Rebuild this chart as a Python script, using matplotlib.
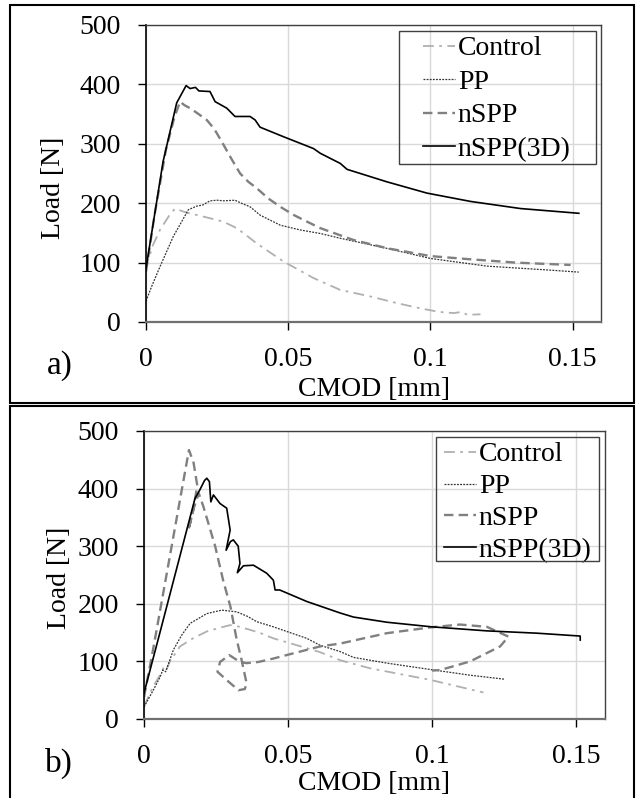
import matplotlib
matplotlib.use("Agg")
import matplotlib.pyplot as plt
from matplotlib.patches import Rectangle

plt.rcParams['font.family'] = ['Liberation Serif', 'DejaVu Serif']

# ---- panel a) data ----
ctrl_a_x = [0, 0.0005, 0.0025, 0.0049, 0.0080, 0.0102, 0.0143, 0.0180, 0.0214, 0.0272, 0.0319, 0.0350,
            0.0390, 0.0483, 0.0589, 0.0683, 0.0789, 0.0880, 0.0965, 0.1030, 0.1082, 0.1110, 0.1130, 0.1176]
ctrl_a_y = [88, 100, 130, 155, 178, 191, 184, 180, 176, 169, 158, 147,
            132, 102, 74, 54, 43, 32, 23, 17, 15, 17, 12, 13]

pp_a_x = [0, 0.0020, 0.0049, 0.0096, 0.0149, 0.0178, 0.0200, 0.0225, 0.0250, 0.0272, 0.0313, 0.0340,
          0.0366, 0.0401, 0.0472, 0.0542, 0.0613, 0.0683, 0.0847, 0.1000, 0.1200, 0.1400, 0.1522]
pp_a_y = [35, 60, 93, 144, 189, 195, 197, 204, 205, 204, 205, 199,
          194, 180, 163, 155, 149, 141, 124, 107, 94, 88, 84]

nspp_a_x = [0, 0.0030, 0.0070, 0.0100, 0.0120, 0.0135, 0.0155, 0.0185, 0.0214, 0.0240, 0.0266, 0.0300,
            0.0331, 0.0360, 0.0390, 0.0430, 0.0472, 0.0520, 0.0566, 0.0613, 0.0683, 0.0730, 0.0850,
            0.1000, 0.1129, 0.1300, 0.1493]
nspp_a_y = [85, 180, 290, 345, 371, 365, 360, 350, 340, 325, 304, 275,
            250, 236, 225, 208, 194, 180, 169, 158, 146, 138, 124,
            111, 106, 100, 96]

n3d_a_x = [0, 0.0030, 0.0060, 0.0108, 0.0141, 0.0155, 0.0174, 0.0186, 0.0225, 0.0243, 0.0284, 0.0313,
           0.0340, 0.0366, 0.0384, 0.0401, 0.0483, 0.0589, 0.0613, 0.0683, 0.0707, 0.0847, 0.0988,
           0.1141, 0.1317, 0.1522]
n3d_a_y = [90, 180, 270, 369, 398, 393, 395, 389, 388, 371, 360, 346,
           346, 346, 340, 328, 312, 292, 284, 267, 257, 236, 217,
           203, 191, 183]

# ---- panel b) data ----
ctrl_b_x = [0, 0.0030, 0.0060, 0.0067, 0.0075, 0.0090, 0.0125, 0.0170, 0.0218, 0.0260, 0.0299, 0.0333,
            0.0400, 0.0449, 0.0565, 0.0611, 0.0681, 0.0785, 0.0993, 0.1178]
ctrl_b_y = [22, 55, 80, 88, 82, 100, 126, 140, 152, 158, 163, 160,
            150, 140, 123, 116, 102, 88, 68, 46]

pp_b_x = [0, 0.0030, 0.0056, 0.0065, 0.0075, 0.0102, 0.0130, 0.0160, 0.0218, 0.0270, 0.0322, 0.0360,
          0.0391, 0.0449, 0.0565, 0.0611, 0.0681, 0.0727, 0.0843, 0.0993, 0.1132, 0.1253]
pp_b_y = [21, 48, 73, 85, 82, 120, 145, 166, 183, 189, 186, 178,
          169, 160, 140, 128, 117, 107, 97, 86, 76, 69]

nspp_b_x = [0, 0.0032, 0.0156, 0.0172, 0.0185, 0.0168, 0.0154, 0.0172, 0.0190, 0.0206, 0.0247, 0.0275,
            0.0300, 0.0322, 0.0339, 0.0356, 0.0350, 0.0328, 0.0293, 0.0255, 0.0264, 0.0296, 0.0333,
            0.0356, 0.0397, 0.0449, 0.0611, 0.0681, 0.0843, 0.0993, 0.1097, 0.1190, 0.1265, 0.1236,
            0.1132, 0.1028, 0.1000]
nspp_b_y = [38, 122, 467, 445, 405, 355, 328, 365, 392, 369, 300, 240,
            195, 137, 102, 62, 52, 50, 65, 82, 99, 111, 99,
            97, 99, 105, 126, 131, 149, 159, 164, 160, 143, 126,
            100, 85, 84]

n3d_b_x = [0, 0.0049, 0.0177, 0.0194, 0.0210, 0.0218, 0.0227, 0.0232, 0.0241, 0.0264, 0.0287, 0.0299,
           0.0285, 0.0300, 0.0310, 0.0327, 0.0333, 0.0324, 0.0345, 0.0380, 0.0426, 0.0449, 0.0455,
           0.0471, 0.0565, 0.0681, 0.0727, 0.0843, 0.0999, 0.1190, 0.1363, 0.1514, 0.1514]
n3d_b_y = [45, 138, 383, 398, 414, 418, 412, 377, 389, 374, 366, 328,
           293, 308, 311, 300, 270, 254, 266, 267, 253, 241, 224,
           224, 204, 184, 177, 168, 160, 153, 149, 144, 137]

labels = ['Control', 'PP', 'nSPP', 'nSPP(3D)']
x_ticks = [0, 0.05, 0.1, 0.15]
x_tick_labels = ['0', '0.05', '0.1', '0.15']
y_ticks = [0, 100, 200, 300, 400, 500]

W, H = 638, 798


def fx(px):
    return px / W


def fy(py):
    return 1 - py / H


styles = [
    dict(color='#b0b0b0', lw=1.3, ls=(0, (6, 3, 1.5, 3))),
    dict(color='#333333', lw=0.9, ls=(0, (1.5, 1))),
    dict(color='#808080', lw=1.7, ls=(0, (4, 2.2))),
    dict(color='#000000', lw=1.2, ls='-'),
]

fig = plt.figure(figsize=(W / 100, H / 100), dpi=100)

panels = [
    dict(rect=(146, 25, 601, 322), data=[(ctrl_a_x, ctrl_a_y), (pp_a_x, pp_a_y), (nspp_a_x, nspp_a_y), (n3d_a_x, n3d_a_y)],
         leg_anchor=(423, 36), leg_space=0.29, leg_box=(399, 31, 596, 164),
         ylab=(53, 188), xlab_base=396, tag='a)', tag_pos=(47, 374), border=(10, 5, 634, 403)),
    dict(rect=(144, 431, 605, 719), data=[(ctrl_b_x, ctrl_b_y), (pp_b_x, pp_b_y), (nspp_b_x, nspp_b_y), (n3d_b_x, n3d_b_y)],
         leg_anchor=(444, 442), leg_space=0.23, leg_box=(436, 437, 599, 561),
         ylab=(59, 578), xlab_base=790, tag='b)', tag_pos=(45, 772), border=(10, 406, 634, 812)),
]

for p in panels:
    l, t, r, b = p['rect']
    ax = fig.add_axes([fx(l), fy(b), (r - l) / W, (b - t) / H])
    lines = []
    for (xs, ys), st in zip(p['data'], styles):
        ln, = ax.plot(xs, ys, color=st['color'], lw=st['lw'], linestyle=st['ls'])
        lines.append(ln)
    ax.set_xlim(0, 0.16)
    ax.set_ylim(0, 500)
    ax.set_xticks(x_ticks)
    ax.set_xticklabels(x_tick_labels)
    ax.set_yticks(y_ticks)
    ax.grid(True, color='#d9d9d9', lw=1)
    ax.set_axisbelow(True)
    ax.tick_params(direction='out', length=6, width=1, pad=12, labelsize=20, colors='black')
    ax.spines['left'].set_color('black')
    ax.spines['left'].set_linewidth(1.2)
    ax.spines['bottom'].set_color('#707070')
    ax.spines['bottom'].set_linewidth(1.6)
    for s in ['top', 'right']:
        ax.spines[s].set_color('#404040')
        ax.spines[s].set_linewidth(1.0)

    leg = ax.legend(lines, labels, loc='upper left', frameon=False,
                    bbox_to_anchor=(fx(p['leg_anchor'][0]), fy(p['leg_anchor'][1])),
                    bbox_transform=fig.transFigure, borderpad=0, borderaxespad=0,
                    handlelength=1.15, handletextpad=0.1, labelspacing=p['leg_space'],
                    fontsize=20)
    bl, bt, br, bb = p['leg_box']
    fig.add_artist(Rectangle((fx(bl), fy(bb)), (br - bl) / W, (bb - bt) / H,
                             transform=fig.transFigure, fill=False, ec='#404040', lw=1.0))

    fig.text(fx(p['ylab'][0]), fy(p['ylab'][1]), 'Load [N]', rotation=90,
             ha='center', va='center', fontsize=20)
    fig.text(fx((l + r) / 2), fy(p['xlab_base']), 'CMOD [mm]', ha='center', va='baseline', fontsize=20)
    fig.text(fx(p['tag_pos'][0]), fy(p['tag_pos'][1]), p['tag'], ha='left', va='baseline', fontsize=24)

    el, et, er, eb = p['border']
    fig.add_artist(Rectangle((fx(el), fy(eb)), (er - el) / W, (eb - et) / H,
                             transform=fig.transFigure, fill=False, ec='black', lw=1.5))

fig.savefig('out.png', dpi=100, facecolor='white')
